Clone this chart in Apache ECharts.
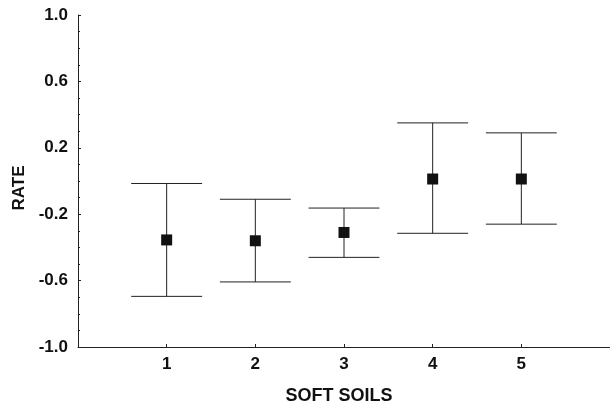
<!DOCTYPE html>
<html>
<head>
<meta charset="utf-8">
<script src="https://cdn.jsdelivr.net/npm/echarts@6/dist/echarts.min.js"></script>
<style>
html,body{margin:0;padding:0;background:#fff;}
#chart{width:610px;height:403px;}
</style>
</head>
<body>
<div id="chart"></div>
<script>
var categories = [1, 2, 3, 4, 5];
var means = [-0.355, -0.36, -0.31, 0.012, 0.012];
var upper = [-0.015, -0.11, -0.163, 0.35, 0.29];
var lower = [-0.695, -0.608, -0.46, -0.315, -0.26];
var yTicks = [-1.0, -0.6, -0.2, 0.2, 0.6, 1.0];

var FONT = '"Liberation Sans", Arial, sans-serif';
var chart = echarts.init(document.getElementById('chart'), null, {renderer: 'canvas'});

var barData = categories.map(function (c, i) { return [c, lower[i], upper[i]]; });
var pointData = categories.map(function (c, i) { return [c, means[i]]; });

chart.setOption({
  animation: false,
  backgroundColor: '#fff',
  grid: {left: 78, right: 0, top: 15, bottom: 56, containLabel: false, outerBoundsMode: 'none'},
  xAxis: {
    type: 'value', min: 0, max: 6, interval: 1,
    name: 'SOFT SOILS', nameLocation: 'middle', nameGap: 40,
    nameTextStyle: {fontFamily: FONT, fontWeight: 'bold', fontSize: 18, color: '#111', padding: [0, 10, 0, 0]},
    axisLine: {show: true, onZero: false, lineStyle: {color: '#222', width: 1}},
    axisTick: {show: true, inside: true, length: 3, customValues: categories, lineStyle: {color: '#222'}},
    axisLabel: {customValues: categories, margin: 9, fontFamily: FONT, fontWeight: 'bold', fontSize: 17, color: '#111'},
    splitLine: {show: false}
  },
  yAxis: {
    type: 'value', min: yTicks[0], max: yTicks[yTicks.length - 1], interval: 0.4,
    name: 'RATE', nameLocation: 'middle', nameGap: 50, nameRotate: 90,
    nameTextStyle: {fontFamily: FONT, fontWeight: 'bold', fontSize: 17, color: '#111', padding: [0, 14, 0, 0]},
    axisLine: {show: true, onZero: false, lineStyle: {color: '#222', width: 1}},
    axisTick: {show: true, inside: true, length: 3, lineStyle: {color: '#222'}},
    minorTick: {show: true, splitNumber: 4, length: 2, lineStyle: {color: '#222'}},
    axisLabel: {margin: 10, fontFamily: FONT, fontWeight: 'bold', fontSize: 17, color: '#111',
      formatter: function (v) { return v.toFixed(1); }},
    splitLine: {show: false}
  },
  series: [
    {
      type: 'custom',
      data: barData,
      encode: {x: 0, y: [1, 2]},
      renderItem: function (params, api) {
        var x = api.value(0);
        var lo = api.coord([x, api.value(1)]);
        var hi = api.coord([x, api.value(2)]);
        var half = api.size([0.4, 0])[0];
        var style = {stroke: '#222', lineWidth: 1};
        return {
          type: 'group',
          children: [
            {type: 'line', shape: {x1: lo[0], y1: lo[1], x2: hi[0], y2: hi[1]}, style: style},
            {type: 'line', shape: {x1: hi[0] - half, y1: hi[1], x2: hi[0] + half, y2: hi[1]}, style: style},
            {type: 'line', shape: {x1: lo[0] - half, y1: lo[1], x2: lo[0] + half, y2: lo[1]}, style: style}
          ]
        };
      },
      z: 1
    },
    {
      type: 'scatter',
      data: pointData,
      symbol: 'rect',
      symbolSize: 11,
      itemStyle: {color: '#111', opacity: 1},
      z: 2
    }
  ]
});
</script>
</body>
</html>
